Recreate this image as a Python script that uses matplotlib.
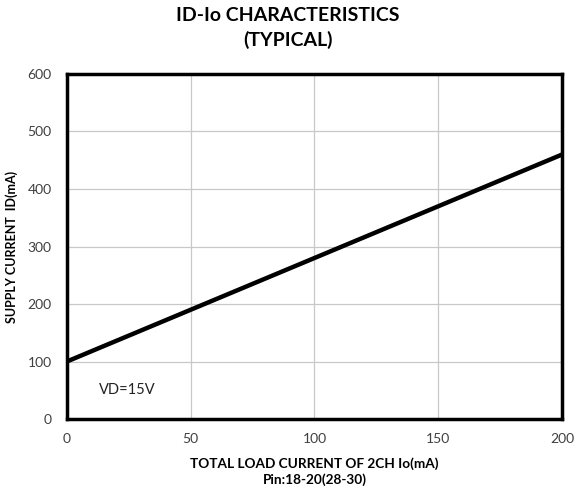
import matplotlib

matplotlib.use("Agg")
import matplotlib.pyplot as plt

# load current Io (mA) vs supply current ID (mA)
io_ma = [0, 50, 100, 150, 200]
id_ma = [100, 190, 280, 370, 460]
x_ticks = [0, 50, 100, 150, 200]
y_ticks = [0, 100, 200, 300, 400, 500, 600]

plt.rcParams["font.family"] = ["Lato", "DejaVu Sans"]

fig = plt.figure(figsize=(5.76, 4.93), dpi=100)
ax = fig.add_axes([0.116, 0.150, 0.860, 0.700])

ax.plot(io_ma, id_ma, color="black", lw=3.2, solid_capstyle="butt", zorder=3)

ax.set_xlim(0, 200)
ax.set_ylim(0, 600)
ax.set_xticks(x_ticks)
ax.set_yticks(y_ticks)
ax.grid(True, color="#c8c8c8", lw=0.9)
ax.tick_params(length=0, labelsize=10, colors="#404040")
ax.tick_params(axis="x", pad=10)
ax.tick_params(axis="y", pad=11)
for s in ax.spines.values():
    s.set_linewidth(2.5)
    s.set_color("black")

ax.text(13, 43, "VD=15V", fontsize=10.5, color="#222222")

ax.set_xlabel("TOTAL LOAD CURRENT OF 2CH Io(mA)\nPin:18-20(28-30)",
              fontsize=9.8, fontweight="bold", labelpad=9, linespacing=1.35)
ax.set_ylabel("SUPPLY CURRENT  ID(mA)", fontsize=9, fontweight="bold")
ax.yaxis.set_label_coords(-0.098, 0.5)
fig.suptitle("ID-Io CHARACTERISTICS\n(TYPICAL)", fontsize=14, fontweight="bold",
             y=0.985, linespacing=1.45)

fig.savefig("out.png", dpi=100)
